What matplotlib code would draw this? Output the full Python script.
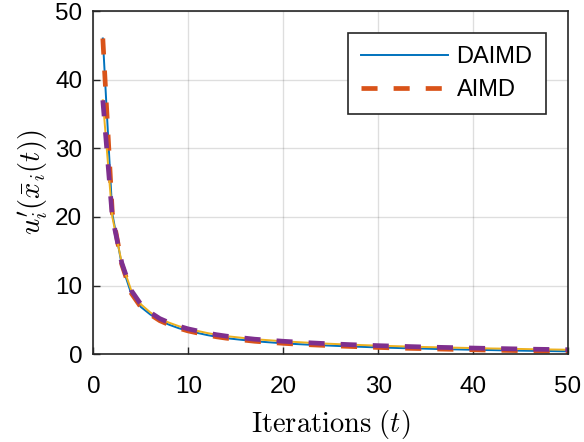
import numpy as np
import matplotlib
matplotlib.use("Agg")
import matplotlib.pyplot as plt

plt.rcParams['font.family'] = ['Liberation Sans', 'DejaVu Sans']
plt.rcParams['mathtext.fontset'] = 'cm'

# iterations
t = list(range(1, 51))

# agent 1
daimd_1 = [46, 20.5, 13, 8.8, 6.9, 5.8, 4.9, 4.3, 3.8, 3.4,
           3.1, 2.8, 2.55, 2.35, 2.2, 2.05, 1.9, 1.8, 1.7, 1.6,
           1.52, 1.45, 1.38, 1.32, 1.26, 1.2, 1.15, 1.1, 1.05, 1.0,
           0.96, 0.92, 0.88, 0.85, 0.82, 0.78, 0.75, 0.72, 0.69, 0.66,
           0.63, 0.61, 0.58, 0.56, 0.53, 0.51, 0.49, 0.47, 0.45, 0.43]
aimd_1 = [46, 20.6, 13.1, 8.9, 6.9, 5.8, 4.9, 4.3, 3.8, 3.4,
          3.1, 2.8, 2.55, 2.35, 2.2, 2.05, 1.9, 1.8, 1.7, 1.6,
          1.52, 1.45, 1.38, 1.32, 1.26, 1.2, 1.15, 1.1, 1.05, 1.0,
          0.96, 0.92, 0.88, 0.85, 0.82, 0.78, 0.75, 0.72, 0.69, 0.66,
          0.63, 0.61, 0.58, 0.56, 0.53, 0.51, 0.49, 0.47, 0.45, 0.43]
# agent 2
daimd_2 = [37, 20, 13.3, 9.3, 7.3, 6.1, 5.2, 4.6, 4.1, 3.7,
           3.4, 3.1, 2.85, 2.65, 2.5, 2.35, 2.2, 2.1, 2.0, 1.9,
           1.82, 1.74, 1.66, 1.59, 1.53, 1.47, 1.41, 1.36, 1.31, 1.26,
           1.22, 1.18, 1.14, 1.1, 1.06, 1.03, 1.0, 0.97, 0.94, 0.91,
           0.88, 0.85, 0.83, 0.8, 0.78, 0.75, 0.73, 0.71, 0.69, 0.67]
aimd_2 = [37, 20, 13.3, 9.3, 7.3, 6.1, 5.2, 4.6, 4.1, 3.7,
          3.4, 3.1, 2.85, 2.65, 2.5, 2.35, 2.2, 2.1, 2.0, 1.9,
          1.82, 1.74, 1.66, 1.59, 1.53, 1.47, 1.41, 1.36, 1.31, 1.26,
          1.22, 1.18, 1.14, 1.1, 1.06, 1.03, 1.0, 0.97, 0.94, 0.91,
          0.88, 0.85, 0.83, 0.8, 0.78, 0.75, 0.73, 0.71, 0.69, 0.67]

fig = plt.figure(figsize=(5.84, 4.42), dpi=100)
ax = fig.add_axes([0.1598, 0.1984, 0.8128, 0.7767])

l1, = ax.plot(t, daimd_1, color='#0072BD', lw=1.4, label='DAIMD')
l2, = ax.plot(t, aimd_1, color='#D95319', lw=3.4, dashes=(3.4, 3.4), label='AIMD')
ax.plot(t, daimd_2, color='#EDB120', lw=1.4)
ax.plot(t, aimd_2, color='#7E2F8E', lw=3.4, dashes=(3.4, 3.4))

ax.set_xlim(0, 50)
ax.set_ylim(0, 50)
ax.set_xticks([0, 10, 20, 30, 40, 50])
ax.set_yticks([0, 10, 20, 30, 40, 50])
ax.grid(True, color='#262626', alpha=0.15, lw=1.0)
ax.tick_params(direction='in', length=5, width=1.0, labelsize=17.5, colors='#262626',
               labelcolor='black', top=False, right=False)
ax.tick_params(axis='x', pad=15.5)
ax.tick_params(axis='y', pad=8)
for s in ax.spines.values():
    s.set_color('#262626')
    s.set_linewidth(1.2)

ax.set_xlabel(r'$\mathrm{Iterations}\ (t)$', fontsize=20.5, labelpad=7)
ax.set_ylabel(r"$u_i'(\bar{x}_i(t))$", fontsize=20.5, labelpad=4)

leg = ax.legend(handles=[l1, l2], loc='upper right', fontsize=17, handlelength=3.7,
                handletextpad=0.35, fancybox=False, framealpha=1, edgecolor='#262626',
                borderaxespad=0.95, borderpad=0.55, labelspacing=0.45)
leg.get_frame().set_linewidth(1.2)

fig.savefig('out.png', dpi=100)
